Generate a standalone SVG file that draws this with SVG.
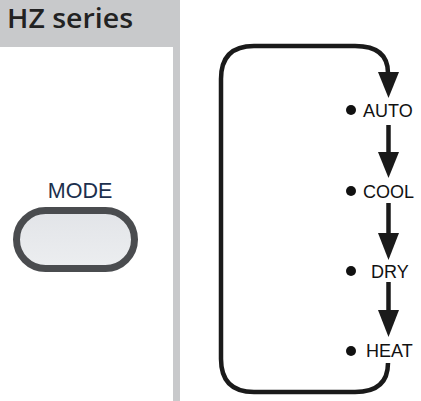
<svg xmlns="http://www.w3.org/2000/svg" width="421" height="401" viewBox="0 0 421 401">
<defs>
<linearGradient id="btn" x1="0" y1="0" x2="0" y2="1">
<stop offset="0" stop-color="#e2e4e8"/>
<stop offset="1" stop-color="#eceef0"/>
</linearGradient>
<style>
.lbl{font-family:"Liberation Sans",Arial,sans-serif;font-size:18px;fill:#111}
.dot{fill:#111}
.ln{fill:none;stroke:#1a1a1a;stroke-width:4.5}
.head{fill:#1a1a1a}
</style>
</defs>
<rect x="0" y="0" width="421" height="401" fill="#ffffff"/>
<g id="panel">
<rect x="0" y="0" width="180" height="401" fill="#c8c9cb"/>
<rect x="0" y="47" width="173" height="354" fill="#ffffff"/>
<text x="7" y="28" font-family="'Open Sans','Liberation Sans',sans-serif" font-size="26.5" font-weight="600" fill="#222" textLength="126" lengthAdjust="spacingAndGlyphs">HZ series</text>
</g>
<g id="mode-button">
<text x="80" y="198" text-anchor="middle" font-family="'Liberation Sans',Arial,sans-serif" font-size="21.5" fill="#1c2f4d">MODE</text>
<rect x="16.5" y="210.5" width="118" height="58" rx="29" fill="url(#btn)" stroke="#4a4c4f" stroke-width="7"/>
</g>
<g id="connectors">
<path class="ln" d="M388 73 Q388 46 355 46 L254 46 Q221 46 221 79 L221 359 Q221 392 254 392 L355 392 Q388 392 388 363"/>
<polygon class="head" points="378,72 399,72 388.5,98"/>
<line class="ln" x1="388.5" y1="125" x2="388.5" y2="154"/>
<polygon class="head" points="378,152 399,152 388.5,178"/>
<line class="ln" x1="388.5" y1="203" x2="388.5" y2="235"/>
<polygon class="head" points="378,233 399,233 388.5,260"/>
<line class="ln" x1="388.5" y1="282" x2="388.5" y2="312"/>
<polygon class="head" points="378,310 399,310 388.5,337"/>
</g>
<g id="auto"><circle class="dot" cx="351" cy="110" r="5"/><text class="lbl" x="363" y="117">AUTO</text></g>
<g id="cool"><circle class="dot" cx="351" cy="191" r="5"/><text class="lbl" x="363" y="198">COOL</text></g>
<g id="dry"><circle class="dot" cx="351" cy="271" r="5"/><text class="lbl" x="371" y="278">DRY</text></g>
<g id="heat"><circle class="dot" cx="351" cy="351" r="5"/><text class="lbl" x="366" y="357">HEAT</text></g>
</svg>
